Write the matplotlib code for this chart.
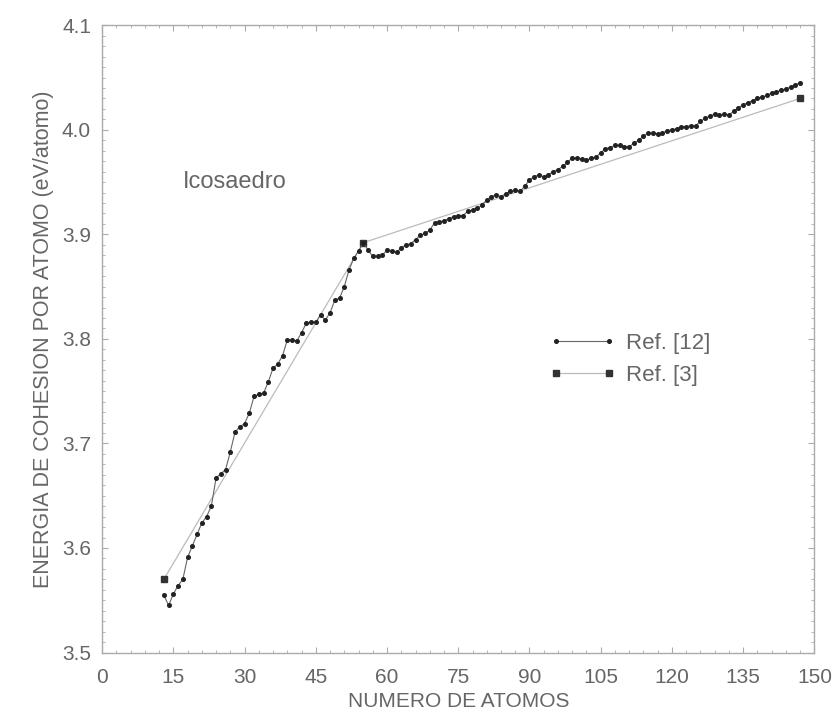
import matplotlib.pyplot as plt
from matplotlib.ticker import MultipleLocator

plt.rcParams['font.family'] = ['Liberation Sans', 'DejaVu Sans']

# Ref. [12]: cohesion energy per atom, N = 13 .. 147
n_atoms = list(range(13, 148))
e_ref12 = [
    3.555, 3.545, 3.556, 3.564, 3.570, 3.591, 3.602, 3.613, 3.624, 3.630,
    3.640, 3.667, 3.671, 3.675, 3.692, 3.711, 3.716, 3.719, 3.729, 3.745,
    3.747, 3.748, 3.759, 3.772, 3.776, 3.784, 3.799, 3.799, 3.798, 3.806,
    3.815, 3.816, 3.816, 3.823, 3.818, 3.825, 3.837, 3.839, 3.850, 3.866,
    3.877, 3.884, 3.892, 3.885, 3.879, 3.879, 3.880, 3.885, 3.884, 3.883,
    3.887, 3.890, 3.891, 3.895, 3.899, 3.901, 3.904, 3.911, 3.912, 3.913,
    3.915, 3.917, 3.918, 3.918, 3.922, 3.923, 3.925, 3.928, 3.933, 3.936,
    3.938, 3.936, 3.939, 3.941, 3.942, 3.941, 3.946, 3.952, 3.955, 3.957,
    3.955, 3.957, 3.960, 3.962, 3.965, 3.969, 3.973, 3.973, 3.972, 3.971,
    3.973, 3.974, 3.978, 3.982, 3.983, 3.985, 3.985, 3.984, 3.984, 3.987,
    3.990, 3.994, 3.997, 3.997, 3.996, 3.997, 3.999, 4.000, 4.001, 4.003,
    4.003, 4.004, 4.004, 4.008, 4.011, 4.013, 4.015, 4.014, 4.015, 4.014,
    4.018, 4.021, 4.024, 4.026, 4.028, 4.030, 4.031, 4.033, 4.035, 4.036,
    4.038, 4.039, 4.041, 4.043, 4.045,
]

# Ref. [3]: magic sizes only
n_ref3 = [13, 55, 147]
e_ref3 = [3.570, 3.892, 4.030]

x_ticks = list(range(0, 151, 15))
y_ticks = [3.5, 3.6, 3.7, 3.8, 3.9, 4.0, 4.1]

text_col = '#666666'
frame_col = '#aaaaaa'

fig = plt.figure(figsize=(8.37, 7.21), dpi=100)
ax = fig.add_axes([0.122, 0.095, 0.851, 0.870])

ax.plot(n_atoms, e_ref12, color='#666666', lw=0.8, marker='o', ms=2.6,
        mfc='#222222', mec='#222222', label='Ref. [12]')
ax.plot(n_ref3, e_ref3, color='#bbbbbb', lw=0.9, marker='s', ms=5,
        mfc='#333333', mec='#333333', label='Ref. [3]', zorder=1)

ax.set_xlim(0, 150)
ax.set_ylim(3.5, 4.1)
ax.set_xticks(x_ticks)
ax.set_yticks(y_ticks)
ax.set_yticklabels(['%.1f' % v for v in y_ticks])
ax.xaxis.set_minor_locator(MultipleLocator(3))
ax.yaxis.set_minor_locator(MultipleLocator(0.01))

for s in ax.spines.values():
    s.set_color(frame_col)
    s.set_linewidth(1.0)
ax.tick_params(which='both', direction='in', colors=frame_col, labelcolor=text_col,
               top=True, right=True)
ax.tick_params(which='major', length=4, labelsize=15, pad=8)
ax.tick_params(which='minor', length=2)
ax.tick_params(axis='x', which='major', pad=11)

ax.set_xlabel('NUMERO DE ATOMOS', fontsize=15, color=text_col, labelpad=4)
ax.set_ylabel('ENERGIA DE COHESION POR ATOMO (eV/atomo)', fontsize=15.5,
              color=text_col, labelpad=6)

ax.text(0.114, 0.75, 'Icosaedro', transform=ax.transAxes, fontsize=17,
        color=text_col, va='center')

leg = ax.legend(loc='center left', bbox_to_anchor=(0.6, 0.467), frameon=False,
                numpoints=2, fontsize=16, handlelength=3.0, handletextpad=0.45,
                labelspacing=0.5, labelcolor=text_col)

fig.savefig('out.png', dpi=100, facecolor='white')
